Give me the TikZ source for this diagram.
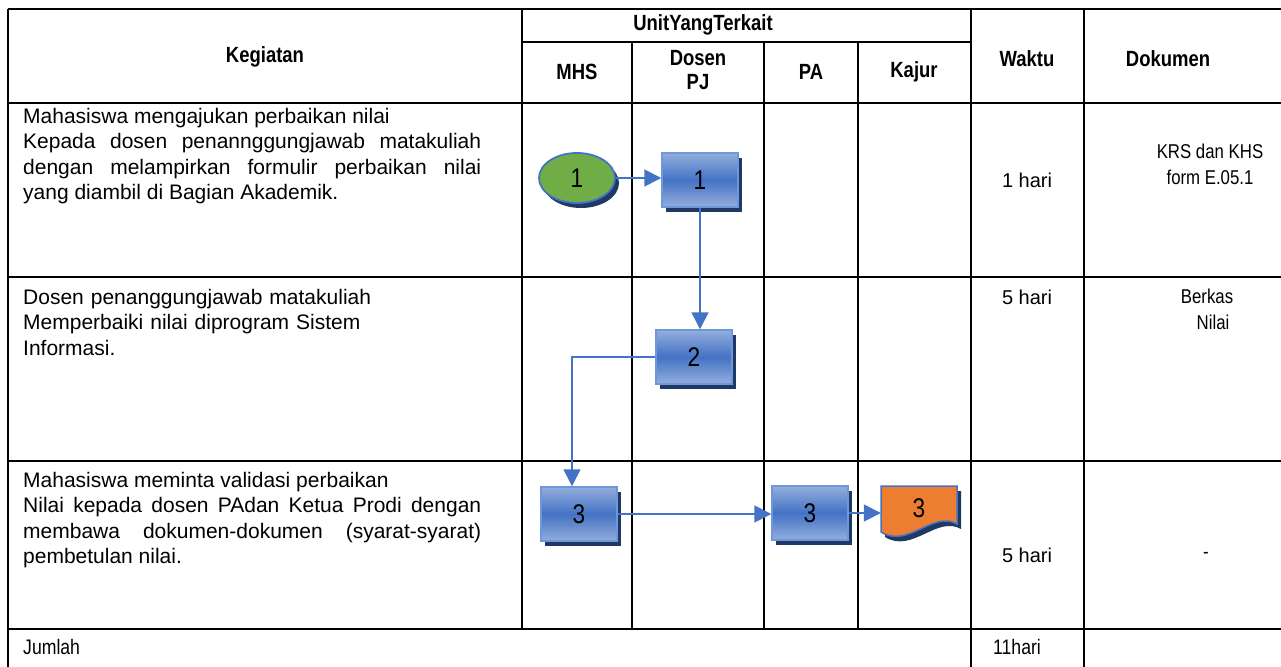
\documentclass[tikz,border=0pt]{standalone}
\usepackage{fontspec}
\setmainfont{Liberation Sans}
\newfontfamily\narrowfont[FakeStretch=0.84]{Liberation Sans}
\usetikzlibrary{arrows.meta,shapes.geometric,shadows}
\definecolor{abl}{HTML}{4472C4}
\definecolor{bbord}{HTML}{6F97DB}
\definecolor{shad}{HTML}{1F3864}
\definecolor{grn}{HTML}{70AD47}
\definecolor{org}{HTML}{ED7D31}
\definecolor{blight}{HTML}{93AEDD}
\tikzset{
  grid/.style={line width=1.6pt, draw=black},
  hdr/.style={font=\narrowfont\bfseries\fontsize{22}{24}\selectfont, align=center, inner sep=0},
  txt/.style={font=\fontsize{21}{25.5}\selectfont, inner sep=0, anchor=north west, text width=458pt},
  cell/.style={font=\fontsize{20}{25}\selectfont, inner sep=0, align=center},
  doc/.style={font=\narrowfont\fontsize{20}{26}\selectfont, inner sep=0, align=center},
  shd/.style={general shadow={shadow xshift=4pt, shadow yshift=-5pt, fill=shad}},
  proc/.style={rectangle, minimum width=76pt, minimum height=54pt, draw=bbord, line width=1.5pt,
    top color=blight, bottom color=blight, middle color=abl, shd,
    font=\narrowfont\fontsize{27}{28}\selectfont, inner sep=0},
  startnode/.style={ellipse, minimum width=76pt, minimum height=50pt, fill=grn, draw=abl,
    line width=1.8pt, shd, font=\narrowfont\fontsize{27}{28}\selectfont, inner sep=0},
  docnode/.style={rectangle, minimum width=76pt, minimum height=52pt, inner sep=0,
    font=\narrowfont\fontsize{27}{28}\selectfont},
  flow/.style={draw=abl, line width=1.6pt, -{Triangle[length=17pt,width=17pt]}},
}
\begin{document}
\begin{tikzpicture}[x=1pt,y=-1pt]
\useasboundingbox (0,0) rectangle (1281,666);
\clip (0,0) rectangle (1281,666);
\fill[white] (0,0) rectangle (1281,666);
% table grid
\draw[grid] (8,9) -- (1300,9);
\draw[grid] (522,42) -- (971,42);
\draw[grid] (8,103) -- (1300,103);
\draw[grid] (8,277) -- (1300,277);
\draw[grid] (8,461) -- (1300,461);
\draw[grid] (8,629) -- (1300,629);
\draw[grid] (8,9) -- (8,680);
\draw[grid] (522,9) -- (522,629);
\draw[grid] (632,42) -- (632,629);
\draw[grid] (764,42) -- (764,629);
\draw[grid] (858,42) -- (858,629);
\draw[grid] (971,9) -- (971,680);
\draw[grid] (1084,9) -- (1084,680);
% header
\node[hdr] (hkeg) at (265,57) {Kegiatan};
\node[hdr] (hunit) at (703,25) {UnitYangTerkait};
\node[hdr] (hmhs) at (577,72) {MHS};
\node[hdr] (hdos) at (698,70) {Dosen\\PJ};
\node[hdr] (hpa) at (811,72) {PA};
\node[hdr] (hkaj) at (914,72) {Kajur};
\node[hdr] (hwak) at (1027,59) {Waktu};
\node[hdr] (hdok) at (1168,59) {Dokumen};
% activities
\node[txt, align=justify] (t1) at (23,108) {Mahasiswa mengajukan perbaikan nilai\\Kepada dosen penannggungjawab matakuliah\linebreak dengan melampirkan formulir perbaikan nilai\linebreak yang diambil di Bagian Akademik.};
\node[txt, align=left] (t2) at (23,289) {Dosen penanggungjawab matakuliah\\Memperbaiki nilai diprogram Sistem\\Informasi.};
\node[txt, align=justify] (t3) at (23,472) {Mahasiswa meminta validasi perbaikan\\Nilai kepada dosen PAdan Ketua Prodi dengan\linebreak membawa dokumen-dokumen (syarat-syarat)\linebreak pembetulan nilai.};
% waktu / dokumen
\node[cell] (w1) at (1027,180) {1 hari};
\node[cell] (w2) at (1027,297) {5 hari};
\node[cell] (w3) at (1027,555) {5 hari};
\node[doc] (d1) at (1210,164) {KRS dan KHS\\form E.05.1};
\node[doc] (d2) at (1207,309) {Berkas\\\hspace*{12pt}Nilai};
\node[doc] (d3t) at (1206,555) {-};
\node[cell, anchor=west, font=\narrowfont\fontsize{21}{23}\selectfont] (jml) at (23,647) {Jumlah};
\node[cell, font=\narrowfont\fontsize{21}{23}\selectfont] (tot) at (1017,647) {11hari};
% flow shapes
\node[startnode] (e1) at (577,178) {1};
\node[proc] (b1) at (700,180) {1};
\node[proc] (b2) at (694,357) {2};
\node[proc] (b3a) at (579,514) {3};
\node[proc] (b3b) at (810,513) {3};
\filldraw[fill=org, draw=abl, line width=1.5pt, shd]
  (881,486) -- (957,486) -- (957,524) .. controls (933,510) and (908,549) .. (881,532) -- cycle;
\node[docnode] (d3) at (919,508) {3};
% connectors
\draw[flow] (e1.east) -- (e1.east -| b1.west);
\draw[flow] (b1.south) -- (b1.south |- b2.north);
\draw[flow] (b2.west) -| ([xshift=-7pt]b3a.north);
\draw[flow] (b3a.east) -- (b3a.east -| b3b.west);
\draw[flow] (b3b.east) -- (b3b.east -| d3.west);
\end{tikzpicture}
\end{document}
